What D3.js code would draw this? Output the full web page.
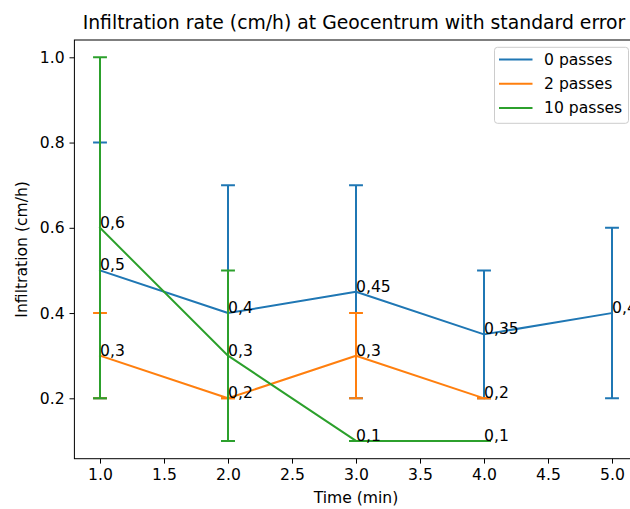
<!DOCTYPE html>
<html>
<head>
<meta charset="utf-8">
<script src="https://cdn.jsdelivr.net/npm/d3@7"></script>
<style>
html,body{margin:0;padding:0;background:#fff;overflow:hidden;}
svg{display:block;font-family:"DejaVu Sans",sans-serif;}
</style>
</head>
<body>
<svg id="chart" width="630" height="509"></svg>
<script>
// ---- data ----
const seriesNames = ["0 passes", "2 passes", "10 passes"];
const colors = ["#1f77b4", "#ff7f0e", "#2ca02c"];
const timesPasses0 = [1, 2, 3, 4, 5];
const valuesPasses0 = [0.5, 0.4, 0.45, 0.35, 0.4];
const errorsPasses0 = [0.3, 0.3, 0.25, 0.15, 0.2];
const timesPasses2 = [1, 2, 3, 4];
const valuesPasses2 = [0.3, 0.2, 0.3, 0.2];
const errorsPasses2 = [0.1, 0.0, 0.1, 0.0];
const timesPasses10 = [1, 2, 3, 4];
const valuesPasses10 = [0.6, 0.3, 0.1, 0.1];
const errorsPasses10 = [0.4, 0.2, 0.0, 0.0];
const xTicks = [1.0, 1.5, 2.0, 2.5, 3.0, 3.5, 4.0, 4.5, 5.0];
const yTicks = [0.2, 0.4, 0.6, 0.8, 1.0];
const titleText = "Infiltration rate (cm/h) at Geocentrum with standard error";
const xLabel = "Time (min)";
const yLabel = "Infiltration (cm/h)";

const series = [
  {name: seriesNames[0], color: colors[0], t: timesPasses0, v: valuesPasses0, e: errorsPasses0},
  {name: seriesNames[1], color: colors[1], t: timesPasses2, v: valuesPasses2, e: errorsPasses2},
  {name: seriesNames[2], color: colors[2], t: timesPasses10, v: valuesPasses10, e: errorsPasses10}
];

// ---- layout ----
const L = 74.4, R = 637.6, T = 40, B = 458.7;
const FS = "15.6px";
const svg = d3.select("#chart");
const x = d3.scaleLinear().domain([0.8, 5.2]).range([L, R]);
const y = d3.scaleLinear().domain([0.0583, 1.0406]).range([B, T]);

const clipId = "plotclip";
svg.append("defs").append("clipPath").attr("id", clipId)
  .append("rect").attr("x", L).attr("y", T).attr("width", R - L).attr("height", B - T);

const plot = svg.append("g").attr("clip-path", `url(#${clipId})`);
const cap = 6.94;
const LW = 2.0;

series.forEach(s => {
  const pts = s.t.map((t, i) => ({t, v: s.v[i], e: s.e[i]}));
  const g = plot.append("g");
  // error bars
  pts.forEach(p => {
    g.append("line")
      .attr("x1", x(p.t)).attr("x2", x(p.t))
      .attr("y1", y(p.v - p.e)).attr("y2", y(p.v + p.e))
      .attr("stroke", s.color).attr("stroke-width", LW);
    [p.v - p.e, p.v + p.e].forEach(c => {
      g.append("line")
        .attr("x1", x(p.t) - cap).attr("x2", x(p.t) + cap)
        .attr("y1", y(c)).attr("y2", y(c))
        .attr("stroke", s.color).attr("stroke-width", LW);
    });
  });
  // data line
  g.append("path")
    .datum(pts)
    .attr("fill", "none")
    .attr("stroke", s.color)
    .attr("stroke-width", LW)
    .attr("stroke-linejoin", "round")
    .attr("stroke-linecap", "square")
    .attr("d", d3.line().x(d => x(d.t)).y(d => y(d.v)));
});

// value labels
series.forEach(s => {
  s.t.forEach((t, i) => {
    svg.append("text")
      .attr("x", x(t)).attr("y", y(s.v[i]))
      .attr("font-size", FS)
      .attr("fill", "#000")
      .text(String(s.v[i]).replace(".", ","));
  });
});

// frame
svg.append("rect").attr("x", L).attr("y", T).attr("width", R - L).attr("height", B - T)
  .attr("fill", "none").attr("stroke", "#000").attr("stroke-width", 1);

// axes
const xAxis = d3.axisBottom(x).tickValues(xTicks).tickFormat(d3.format(".1f"))
  .tickSize(4.9).tickPadding(4.9);
const gx = svg.append("g").attr("transform", `translate(0,${B})`).call(xAxis);
const yAxis = d3.axisLeft(y).tickValues(yTicks).tickFormat(d3.format(".1f"))
  .tickSize(4.9).tickPadding(4.9);
const gy = svg.append("g").attr("transform", `translate(${L},0)`).call(yAxis);
[gx, gy].forEach(g => {
  g.select(".domain").remove();
  g.selectAll(".tick line").attr("stroke", "#000").attr("stroke-width", 1);
  g.selectAll(".tick text").attr("font-size", FS).attr("fill", "#000")
    .attr("font-family", "DejaVu Sans");
});

// titles
svg.append("text").attr("x", (L + R) / 2 - 2).attr("y", 29).attr("text-anchor", "middle")
  .attr("font-size", "18.8px").attr("fill", "#000").text(titleText);
svg.append("text").attr("x", (L + R) / 2).attr("y", 503).attr("text-anchor", "middle")
  .attr("font-size", FS).attr("fill", "#000").text(xLabel);
svg.append("text")
  .attr("transform", `translate(27,${(T + B) / 2}) rotate(-90)`)
  .attr("text-anchor", "middle")
  .attr("font-size", FS).attr("fill", "#000").text(yLabel);

// legend
const lg = svg.append("g");
lg.append("rect").attr("x", 494.5).attr("y", 47.3).attr("width", 134).attr("height", 76)
  .attr("rx", 3).attr("fill", "#fff").attr("fill-opacity", 0.8)
  .attr("stroke", "#cccccc").attr("stroke-width", 1);
series.forEach((s, i) => {
  const yy = 59.5 + i * 24.2;
  lg.append("line").attr("x1", 499).attr("x2", 532.5).attr("y1", yy).attr("y2", yy)
    .attr("stroke", s.color).attr("stroke-width", LW);
  lg.append("text").attr("x", 544).attr("y", yy + 5.5).attr("font-size", FS)
    .attr("fill", "#000").text(s.name);
});
</script>
</body>
</html>
